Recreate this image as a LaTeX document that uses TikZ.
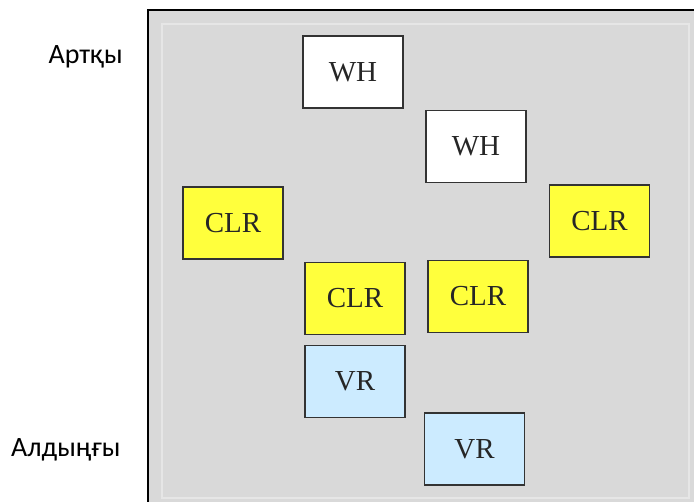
\documentclass[tikz,border=0pt]{standalone}
\usepackage{fontspec}
\setmainfont{Liberation Serif}
\newfontfamily\labelfont{Carlito}
\definecolor{panelgray}{HTML}{D9D9D9}
\definecolor{framelight}{HTML}{E6E6E6}
\definecolor{boxyellow}{HTML}{FFFF3C}
\definecolor{boxblue}{HTML}{CCEBFF}
\definecolor{boxline}{HTML}{333333}
\begin{document}
\begin{tikzpicture}[x=1pt,y=-1pt,
  cell/.style={draw=boxline,line width=1.8pt,minimum width=100pt,minimum height=72pt,inner sep=0pt,font=\fontsize{29}{32}\selectfont,text=black!85},
  whbox/.style={cell,fill=white},
  clrbox/.style={cell,fill=boxyellow},
  vrbox/.style={cell,fill=boxblue},
  sidelabel/.style={font=\labelfont\fontsize{28}{32}\selectfont,inner sep=0pt}]
\useasboundingbox (0,0) rectangle (694,502);
% panel
\fill[panelgray] (148,10) rectangle (694,502);
\draw[framelight,line width=1.5pt] (162,24) rectangle (689,498);
\draw[black,line width=2pt] (148,502) -- (148,10) -- (694,10);
% boxes
\node[whbox] (wh1) at (353,72) {WH};
\node[whbox] (wh2) at (476,146.5) {WH};
\node[clrbox] (clrl) at (233,223) {CLR};
\node[clrbox] (clrr) at (599.5,221) {CLR};
\node[clrbox] (clrml) at (355,298.5) {CLR};
\node[clrbox] (clrmr) at (478,296.5) {CLR};
\node[vrbox] (vr1) at (355,381.5) {VR};
\node[vrbox] (vr2) at (474.5,449) {VR};
% labels
\node[sidelabel,anchor=base east] (back) at (123,64) {Артқы};
\node[sidelabel,anchor=base west] (front) at (11,457) {Алдыңғы};
\end{tikzpicture}
\end{document}
